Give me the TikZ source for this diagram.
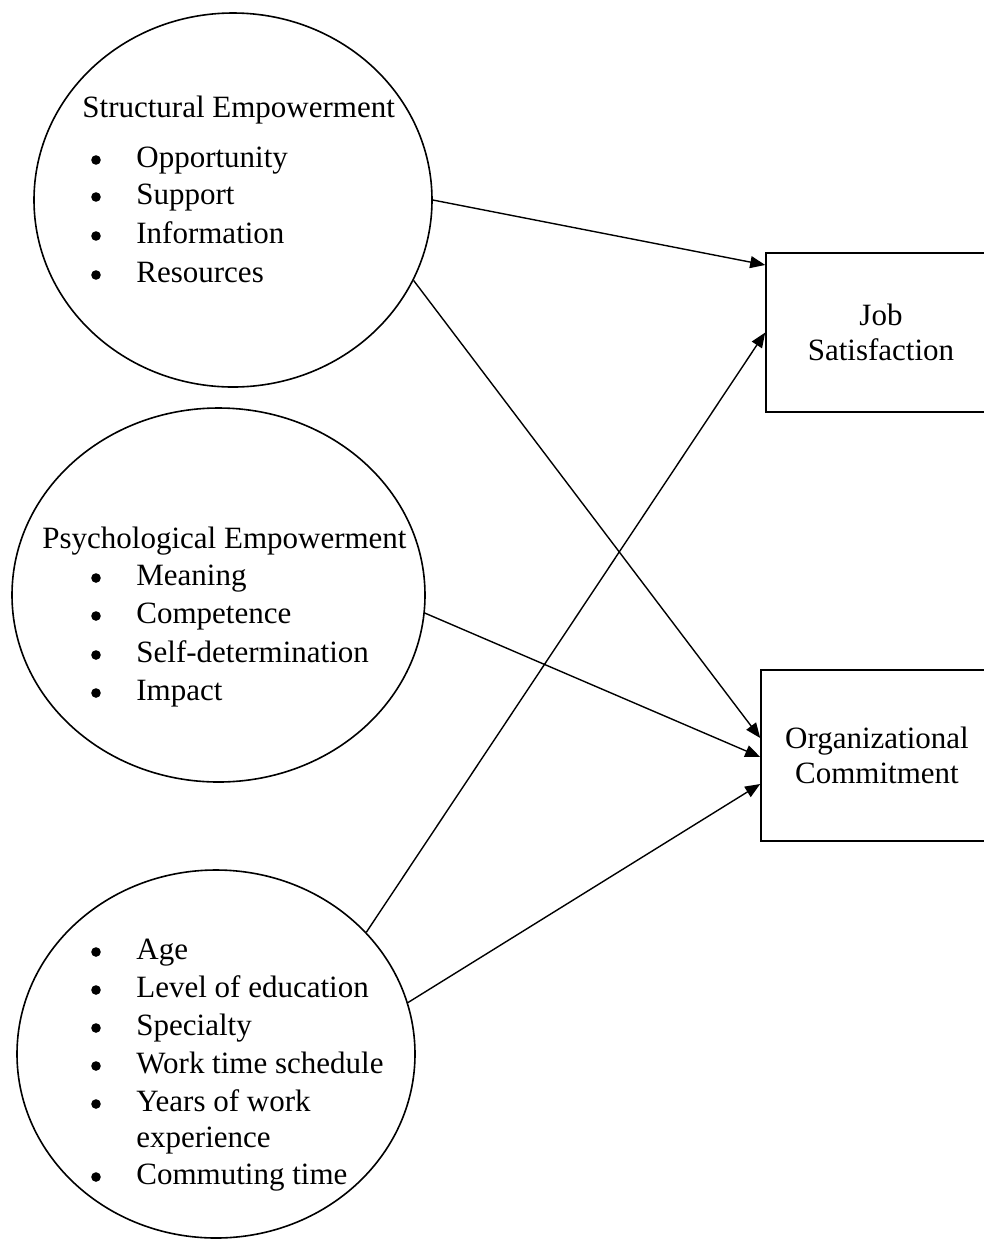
\documentclass[tikz,border=0pt]{standalone}
\usepackage{fontspec}
\setmainfont{Liberation Serif}
\usetikzlibrary{shapes.geometric,arrows.meta}
\begin{document}
\begin{tikzpicture}[x=0.5pt,y=-0.5pt,
  txt/.style={anchor=base west,inner sep=0pt,font=\fontsize{15.5}{19}\selectfont},
  dot/.style={circle,fill,inner sep=0pt,minimum size=4.8pt},
  oval/.style={draw,ellipse,line width=0.8pt,inner sep=0pt},
  outbox/.style={draw,rectangle,line width=0.8pt,inner sep=0pt,align=center,font=\fontsize{15.5}{17.8}\selectfont},
  link/.style={line width=0.7pt,-{Triangle[length=7.5pt,width=6pt]}}]
\useasboundingbox (0,0) rectangle (984,1239);
\clip (0,0) rectangle (984,1239);
% ellipses
\node[oval,minimum width=199pt,minimum height=187pt] (se) at (233,200) {};
\node[oval,minimum width=206.5pt,minimum height=187pt] (pe) at (218.5,595) {};
\node[oval,minimum width=199pt,minimum height=184pt] (de) at (216,1054) {};
% boxes
\node[outbox,minimum width=115pt,minimum height=79.5pt] (job) at (881,332.5) {Job\\Satisfaction};
\node[outbox,minimum width=116pt,minimum height=85.5pt] (org) at (877,755.5) {Organizational\\Commitment};
% structural empowerment
\node[txt] (set) at (82,117) {Structural Empowerment};
\foreach \t/\y [count=\i] in {Opportunity/167,Support/204,Information/243,Resources/282}{
  \node[dot] (seb\i) at (96,\y-7) {};
  \node[txt] (sei\i) at (136,\y) {\t};
}
% psychological empowerment
\node[txt] (pet) at (42,548) {Psychological Empowerment};
\foreach \t/\y [count=\i] in {Meaning/585,Competence/623,Self-determination/662,Impact/700}{
  \node[dot] (peb\i) at (96,\y-7) {};
  \node[txt] (pei\i) at (136,\y) {\t};
}
% demographics
\foreach \t/\y [count=\i] in {Age/959,Level of education/997,Specialty/1035,Work time schedule/1073,Years of work/1111,Commuting time/1184}{
  \node[dot] (deb\i) at (96,\y-7) {};
  \node[txt] (dei\i) at (136,\y) {\t};
}
\node[txt] (dex) at (136,1147) {experience};
% connectors
\draw[link] (se.-0.9) -- ([yshift=33.75pt]job.west);
\draw[link] (se.-24.8) -- ([yshift=8.75pt]org.west);
\draw[link] (pe.-5.3) -- ([yshift=-0.75pt]org.west);
\draw[link] (de.39.4) -- (job.west);
\draw[link] (de.15.2) -- ([yshift=-14.25pt]org.west);
\end{tikzpicture}
\end{document}
